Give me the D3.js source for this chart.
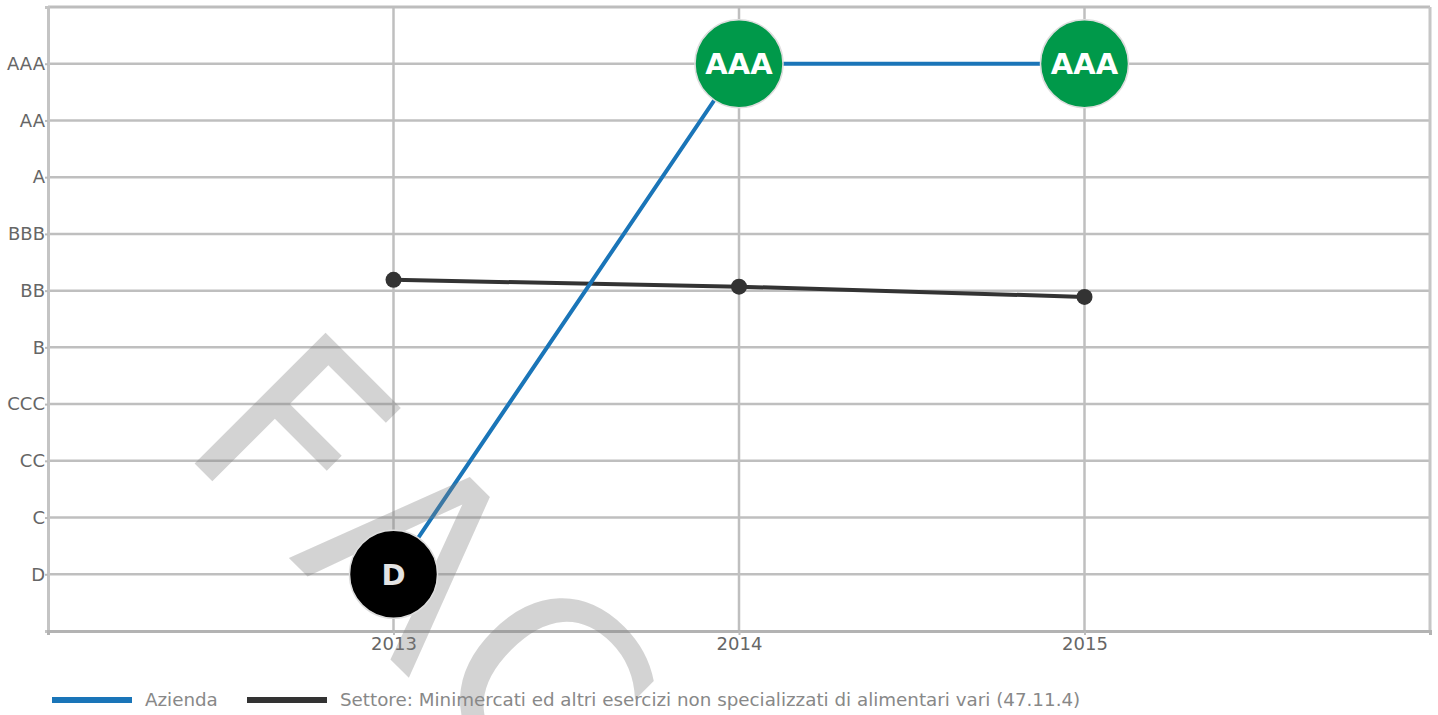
<!DOCTYPE html>
<html>
<head>
<meta charset="utf-8">
<script src="https://cdn.jsdelivr.net/npm/d3@7"></script>
<style>
  body { margin: 0; background: #fff; }
  text { font-family: "DejaVu Sans", sans-serif; }
</style>
</head>
<body>
<div id="visualization"></div>
<script>
// rating classes, bottom to top
var ratings = ["D", "C", "CC", "CCC", "B", "BB", "BBB", "A", "AA", "AAA"];
var years = [2013, 2014, 2015];
// company rating per year
var azienda = ["D", "AAA", "AAA"];
// sector average (rating index, 1 = D)
var settore = [6.19, 6.07, 5.89];
var legendLabels = ["Azienda", "Settore: Minimercati ed altri esercizi non specializzati di alimentari vari (47.11.4)"];

var width = 1438;
var height = 715;
var plotLeft = 48, plotRight = 1430, plotTop = 7, plotBottom = 631;

var svg = d3.select("#visualization").
append("svg").
attr("width", width).
attr("height", height);

var x = d3.scaleLinear().domain([2012, 2016]).range([plotLeft, plotRight]);
var y = d3.scaleLinear().domain([0, ratings.length + 1]).range([plotBottom, plotTop]);

function ratingIndex(r) {
  return ratings.indexOf(r) + 1;
}

// grid
svg.selectAll(".hgrid").
data(ratings).
enter().
append("line").
attr("class", "hgrid").
attr("x1", plotLeft).
attr("x2", plotRight).
attr("y1", function (d) {return y(ratingIndex(d));}).
attr("y2", function (d) {return y(ratingIndex(d));}).
attr("stroke", "#bfbfbf").
attr("stroke-width", 2.5);

svg.selectAll(".vgrid").
data(years).
enter().
append("line").
attr("class", "vgrid").
attr("x1", function (d) {return x(d);}).
attr("x2", function (d) {return x(d);}).
attr("y1", plotTop).
attr("y2", plotBottom).
attr("stroke", "#bfbfbf").
attr("stroke-width", 2.5);

// frame
svg.append("line").attr("x1", plotLeft).attr("x2", plotRight).attr("y1", plotTop).attr("y2", plotTop).
attr("stroke", "#bdbdbd").attr("stroke-width", 3);
svg.append("line").attr("x1", plotRight).attr("x2", plotRight).attr("y1", plotTop).attr("y2", plotBottom).
attr("stroke", "#c6c6c6").attr("stroke-width", 3);

// axes
var yAxis = d3.axisLeft(y).
tickValues(ratings.map(ratingIndex)).
tickFormat(function (d) {return ratings[d - 1];}).
tickSize(3).
tickPadding(0);

var yg = svg.append("g").
attr("id", "y-axis").
attr("transform", "translate(" + plotLeft + ",0)").
call(yAxis);
yg.select(".domain").attr("stroke", "#c4c4c4").attr("stroke-width", 3);
yg.selectAll(".tick line").attr("stroke", "#bbb").attr("stroke-width", 2);
yg.selectAll(".tick text").attr("fill", "#666").attr("font-size", 18).
attr("font-family", "DejaVu Sans");

var xAxis = d3.axisBottom(x).
tickValues(years).
tickFormat(d3.format("d")).
tickSize(4).
tickPadding(2);

var xg = svg.append("g").
attr("id", "x-axis").
attr("transform", "translate(0," + plotBottom + ")").
call(xAxis);
xg.select(".domain").attr("stroke", "#b3b3b3").attr("stroke-width", 3);
xg.selectAll(".tick line").attr("stroke", "#bbb").attr("stroke-width", 2);
xg.selectAll(".tick text").attr("fill", "#666").attr("font-size", 18).
attr("font-family", "DejaVu Sans");

// sector line
var sectorLine = d3.line().
x(function (d, i) {return x(years[i]);}).
y(function (d) {return y(d);});

svg.append("path").
datum(settore).
attr("d", sectorLine).
attr("fill", "none").
attr("stroke", "#333").
attr("stroke-width", 4);

svg.selectAll(".sdot").
data(settore).
enter().
append("circle").
attr("class", "sdot").
attr("cx", function (d, i) {return x(years[i]);}).
attr("cy", function (d) {return y(d);}).
attr("r", 8).
attr("fill", "#333");

// company line
var aziendaLine = d3.line().
x(function (d, i) {return x(years[i]);}).
y(function (d) {return y(ratingIndex(d));});

svg.append("path").
datum(azienda).
attr("d", aziendaLine).
attr("fill", "none").
attr("stroke", "#1a75b8").
attr("stroke-width", 4);

// watermark
svg.append("text").
text("FACSIMILE").
attr("transform", "translate(177,446) rotate(45)").
attr("font-size", 254).
attr("font-family", "Liberation Sans").
attr("letter-spacing", 10).
style("font-kerning", "none").
attr("fill", "#7e7e7e").
attr("fill-opacity", 0.34);

var badges = svg.selectAll(".badge").
data(azienda).
enter().
append("g").
attr("class", "badge").
attr("transform", function (d, i) {
  return "translate(" + x(years[i]) + "," + y(ratingIndex(d)) + ")";
});

badges.append("circle").
attr("r", 44).
attr("fill", function (d) {return d === "D" ? "#000" : "#00994a";}).
attr("stroke", "#ddd").
attr("stroke-width", 1.5);

badges.append("text").
text(function (d) {return d;}).
attr("text-anchor", "middle").
attr("dy", "0.36em").
attr("font-size", 29).
attr("font-weight", "bold").
attr("font-family", "DejaVu Sans").
attr("fill", function (d) {return d === "D" ? "#e4e4e4" : "#fff";});

// legend
var legendColors = ["#1a75b8", "#333"];
var legendX = [52, 247];
var legend = svg.selectAll(".legend").
data(legendLabels).
enter().
append("g").
attr("class", "legend").
attr("transform", function (d, i) {return "translate(" + legendX[i] + ",700)";});

legend.append("line").
attr("x1", 0).
attr("x2", 80).
attr("stroke", function (d, i) {return legendColors[i];}).
attr("stroke-width", 6);

legend.append("text").
text(function (d) {return d;}).
attr("x", 93).
attr("dy", "0.35em").
attr("font-size", 18.3).
attr("fill", "#888");
</script>
</body>
</html>
